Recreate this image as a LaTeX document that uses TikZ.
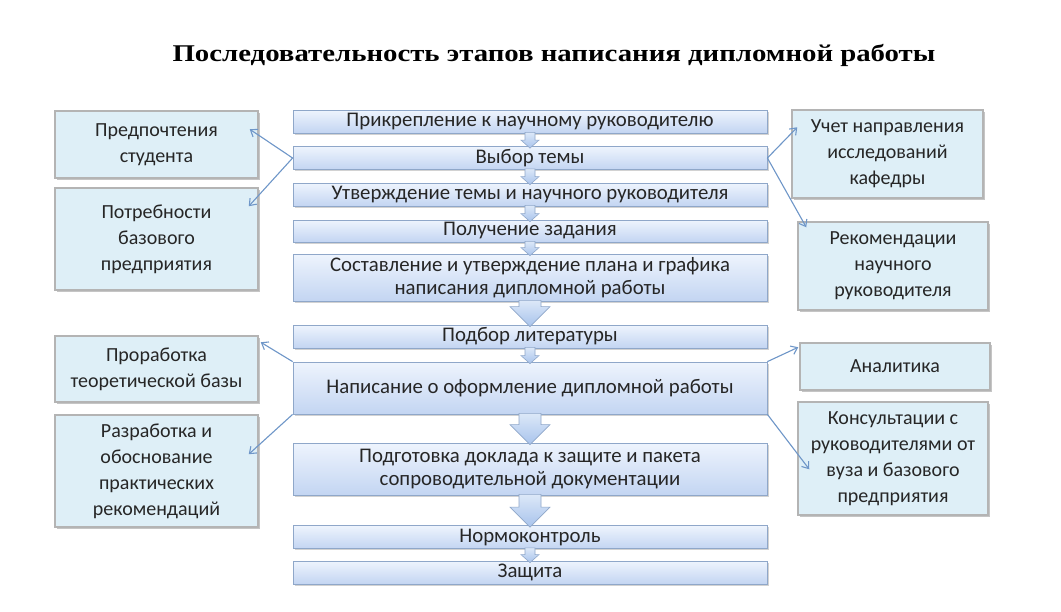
\documentclass[tikz,border=0pt]{standalone}
\usepackage{fontspec}
\setmainfont{Carlito}
\newfontfamily\titlefont[FakeStretch=1.2]{Liberation Serif}
\usetikzlibrary{arrows.meta,shadows,calc}
\definecolor{stagetop}{HTML}{EEF4FD}
\definecolor{stagebottom}{HTML}{C3D5F2}
\definecolor{stageline}{HTML}{8FA7C9}
\definecolor{sidefill}{HTML}{DEEFF7}
\definecolor{sideline}{HTML}{B4B4B4}
\definecolor{linkblue}{HTML}{6E96C8}
\definecolor{flowtop}{HTML}{DCE8F8}
\definecolor{flowbottom}{HTML}{A8C3EC}

\tikzset{
  stage/.style={draw=stageline, line width=0.8pt, top color=stagetop, bottom color=stagebottom,
    minimum width=474pt, inner sep=0pt, align=center, font=\fontsize{20.8}{22.5}\selectfont, text=black!85,
    drop shadow={shadow xshift=1.5pt, shadow yshift=-1.5pt, opacity=0.35}},
  side/.style={draw=sideline, line width=1.5pt, fill=sidefill, inner sep=0pt, align=center,
    font=\fontsize{20}{26}\selectfont, text=black!85,
    drop shadow={shadow xshift=2pt, shadow yshift=-2pt, opacity=0.45}},
  link/.style={linkblue, line width=1.1pt, -{Straight Barb[length=6pt, width=9pt]}},
  flow/.style={draw=stageline, line width=0.6pt, top color=flowtop, bottom color=flowbottom}
}

% block arrow: upper node, lower node, shaft half width, head half width, head length
\newcommand{\flowdown}[5]{%
  \path[flow] let \p1=(#1.south), \p2=(#2.north) in
    (\x1-#3pt,\y1+1pt) -- (\x1+#3pt,\y1+1pt) -- (\x1+#3pt,\y2+#5pt) -- (\x1+#4pt,\y2+#5pt)
    -- (\x1,\y2-2pt) -- (\x1-#4pt,\y2+#5pt) -- (\x1-#3pt,\y2+#5pt) -- cycle;}

\begin{document}
\begin{tikzpicture}[x=1pt, y=-1pt]
  \path[fill=white, use as bounding box] (0,0) rectangle (1061,611);

  \node[font=\titlefont\bfseries\fontsize{24}{28}\selectfont, anchor=base] (title) at (554,61)
    {Последовательность этапов написания дипломной работы};

  % main sequence
  \node[stage, minimum height=23pt] (s1) at (530,121.5) {Прикрепление к научному руководителю};
  \node[stage, minimum height=23pt] (s2) at (530,158) {Выбор темы};
  \node[stage, minimum height=23pt] (s3) at (530,194.5) {Утверждение темы и научного руководителя};
  \node[stage, minimum height=22pt] (s4) at (530,231) {Получение задания};
  \node[stage, minimum height=47pt] (s5) at (530,277.5) {Составление и утверждение плана и графика\\написания дипломной работы};
  \node[stage, minimum height=23pt] (s6) at (530,336.5) {Подбор литературы};
  \node[stage, minimum height=52pt] (s7) at (530,388) {Написание о оформление дипломной работы};
  \node[stage, minimum height=52pt] (s8) at (530,469) {Подготовка доклада к защите и пакета\\сопроводительной документации};
  \node[stage, minimum height=23pt] (s9) at (530,537) {Нормоконтроль};
  \node[stage, minimum height=23pt] (s10) at (530,572.5) {Защита};

  % side factors
  \node[side, minimum width=203pt, minimum height=67pt] (l1) at (156.5,144.5) {Предпочтения\\студента};
  \node[side, minimum width=203pt, minimum height=102pt] (l2) at (156.5,239) {Потребности\\базового\\предприятия};
  \node[side, minimum width=203pt, minimum height=66pt] (l3) at (156.5,369) {Проработка\\теоретической базы};
  \node[side, minimum width=203pt, minimum height=112pt] (l4) at (156.5,471) {Разработка и\\обоснование\\практических\\рекомендаций};
  \node[side, minimum width=191pt, minimum height=88pt] (r1) at (887.5,154) {Учет направления\\исследований\\кафедры};
  \node[side, minimum width=190pt, minimum height=88pt] (r2) at (893,266) {Рекомендации\\научного\\руководителя};
  \node[side, minimum width=190pt, minimum height=47pt] (r3) at (895,366.5) {Аналитика};
  \node[side, minimum width=190pt, minimum height=113pt] (r4) at (893,458.5) {Консультации с\\руководителями от\\вуза и базового\\предприятия};

  \foreach \a/\b in {s1/s2, s2/s3, s3/s4, s4/s5, s6/s7, s9/s10}
    {\flowdown{\a}{\b}{5}{9}{6}}
  \foreach \a/\b in {s5/s6, s7/s8, s8/s9}
    {\flowdown{\a}{\b}{11}{20}{18}}

  \draw[link] (s2.west) -- ([shift={(-9,19)}]l1.north east);
  \draw[link] (s2.west) -- ([shift={(-10,19)}]l2.north east);
  \draw[link] (s2.east) -- ([shift={(6,18)}]r1.north west);
  \draw[link] (s2.east) -- ([shift={(9,6)}]r2.north west);
  \draw[link] (s7.north west) -- ([shift={(2,7)}]l3.north east);
  \draw[link] (s7.south west) -- ([shift={(-10,40)}]l4.north east);
  \draw[link] (s7.north east) -- ([shift={(-1,5)}]r3.north west);
  \draw[link] (s7.south east) -- ([shift={(12,68)}]r4.north west);
\end{tikzpicture}
\end{document}
